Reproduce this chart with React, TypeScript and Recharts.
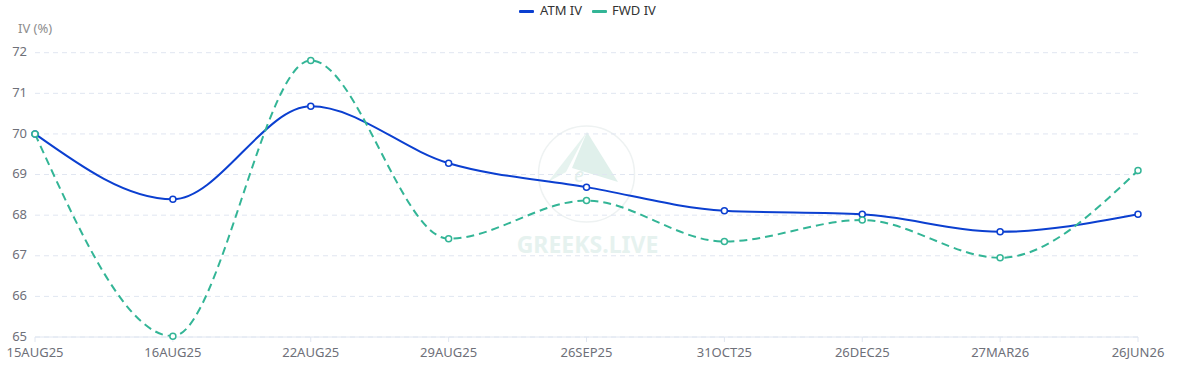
import React from "react";
import { LineChart, Line, XAxis, YAxis, CartesianGrid } from "recharts";

const categories = ["15AUG25", "16AUG25", "22AUG25", "29AUG25", "26SEP25", "31OCT25", "26DEC25", "27MAR26", "26JUN26"];
const atmIV = [70.0, 68.39, 70.68, 69.28, 68.69, 68.11, 68.02, 67.59, 68.02];
const fwdIV = [70.0, 65.02, 71.81, 67.42, 68.36, 67.35, 67.88, 66.95, 69.1];
const yTicks = [65, 66, 67, 68, 69, 70, 71, 72];

const data = categories.map((c, i) => ({ name: c, atm: atmIV[i], fwd: fwdIV[i] }));

const ATM_COLOR = "#0b3fd0";
const FWD_COLOR = "#33b596";
const FONT = "'Noto Sans', sans-serif";

if (typeof document !== "undefined") {
  document.body.style.margin = "0";
}

const Watermark = () => (
  <svg width={1199} height={369} style={{ position: "absolute", left: 0, top: 0 }}>
    <circle cx={586.5} cy={174} r={48} fill="none" stroke="#eef2f2" strokeWidth={1.5} />
    <polygon points="587,132 548,182 566,172" fill="#e6f3ef" />
    <polygon points="587,132 618,182 572,168" fill="#e0f0eb" />
    <text x={574} y={182} fontSize={20} fontStyle="italic" fill="#e2f0ec" fontFamily={FONT}>e</text>
    <text x={587.5} y={253} textAnchor="middle" fontSize={23} fontWeight={700} fill="#e6f2ef" fontFamily={FONT}>GREEKS.LIVE</text>
  </svg>
);

const Overlay = () => (
  <div style={{ position: "absolute", top: 0, left: 0, width: 1199, height: 40, fontFamily: FONT, fontSize: 13, color: "#333" }}>
    <div style={{ position: "absolute", left: 519, top: 9.5, width: 15, height: 3, background: ATM_COLOR, borderRadius: 1 }} />
    <div style={{ position: "absolute", left: 540, top: 1, lineHeight: "19px" }}>ATM IV</div>
    <div style={{ position: "absolute", left: 592, top: 9.5, width: 15, height: 3, background: FWD_COLOR, borderRadius: 1 }} />
    <div style={{ position: "absolute", left: 612, top: 1, lineHeight: "19px" }}>FWD IV</div>
    <div style={{ position: "absolute", left: 18, top: 19, lineHeight: "19px", fontSize: 13, color: "#8e8e8e" }}>IV (%)</div>
  </div>
);

export default function App() {
  return (
    <div style={{ position: "relative", width: 1199, height: 369, background: "#fff" }}>
      <Watermark />
      <Overlay />
      <div style={{ position: "absolute", left: 0, top: 0 }}>
        <LineChart width={1199} height={369} data={data} margin={{ top: 52.7, right: 61, bottom: 0, left: 0 }}>
          <CartesianGrid vertical={false} stroke="#e0e6f1" strokeDasharray="5 4" />
          <XAxis
            dataKey="name"
            height={32}
            tick={{ fill: "#6e7079", fontSize: 13, fontFamily: FONT }}
            axisLine={{ stroke: "#e0e6f1" }}
            tickLine={{ stroke: "#e0e6f1" }}
            tickSize={5}
            tickMargin={6}
            interval={0}
          />
          <YAxis
            type="number"
            domain={[65, 72]}
            ticks={yTicks}
            width={35}
            axisLine={false}
            tickLine={false}
            tick={{ fill: "#6e7079", fontSize: 13, fontFamily: FONT, dy: -1 } as any}
            interval={0}
          />
          <Line
            type="monotone"
            dataKey="atm"
            stroke={ATM_COLOR}
            strokeWidth={2}
            dot={{ r: 3, fill: "#fff", stroke: ATM_COLOR, strokeWidth: 1.5 }}
            isAnimationActive={false}
          />
          <Line
            type="monotone"
            dataKey="fwd"
            stroke={FWD_COLOR}
            strokeWidth={2}
            strokeDasharray="8 5"
            dot={{ r: 3, fill: "#fff", stroke: FWD_COLOR, strokeWidth: 1.5, strokeDasharray: "0" }}
            isAnimationActive={false}
          />
        </LineChart>
      </div>
    </div>
  );
}
